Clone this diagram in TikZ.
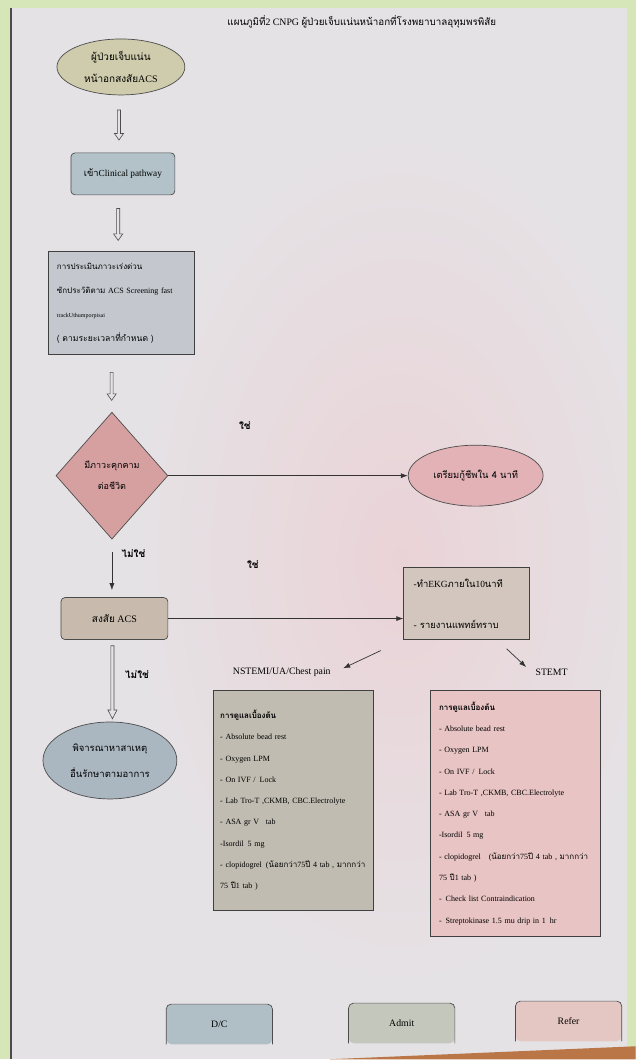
\documentclass[tikz,border=0pt]{standalone}
\usepackage{fontspec}
\setmainfont{Liberation Serif}
\newfontfamily\thaifont[Script=Thai]{Loma}
\usetikzlibrary{arrows.meta,positioning,shapes.geometric,shapes.arrows}
\definecolor{framegreen}{RGB}{214,230,184}
\definecolor{paper}{RGB}{229,226,229}
\definecolor{paperpink}{RGB}{234,211,215}
\definecolor{tablebrown}{RGB}{186,118,70}
\definecolor{startolive}{RGB}{206,204,172}
\definecolor{pathblue}{RGB}{178,194,200}
\definecolor{screengray}{RGB}{196,200,206}
\definecolor{riskpink}{RGB}{214,160,160}
\definecolor{cprpink}{RGB}{226,178,182}
\definecolor{acstan}{RGB}{200,186,172}
\definecolor{ekgbeige}{RGB}{210,198,190}
\definecolor{otherblue}{RGB}{170,182,192}
\definecolor{nstemigray}{RGB}{192,188,178}
\definecolor{stemipink}{RGB}{232,196,196}
\definecolor{dcblue}{RGB}{176,190,198}
\definecolor{admitgray}{RGB}{196,200,188}
\definecolor{referpink}{RGB}{228,198,194}
\newcommand\thaitext[1]{{\thaifont #1}}

\begin{document}
\begin{tikzpicture}[
    x=1pt, y=-1pt,
    font=\fontsize{9.8}{11}\selectfont,
    oval/.style={ellipse,draw=black!70,line width=0.7pt,align=center,inner sep=0pt},
    stepbox/.style={rectangle,rounded corners=4pt,draw=black!70,line width=0.7pt,align=center},
    listbox/.style={rectangle,draw=black!75,line width=0.7pt,align=left,inner xsep=9pt},
    decision/.style={diamond,draw=black!70,line width=0.7pt,align=center,inner sep=0pt},
    tabbox/.style={rectangle,rounded corners=5pt,minimum width=106pt,minimum height=40pt},
    hollow/.style={single arrow,draw=black!70,fill=paper,line width=0.6pt,inner sep=1.25pt,
      shape border rotate=270,single arrow head extend=3pt,single arrow head indent=0pt},
    arrow/.style={-{Latex[length=7pt,width=5pt]},line width=0.7pt,draw=black!80},
    answer/.style={font=\fontsize{10}{11}\selectfont\bfseries}
  ]
  \fill[framegreen] (0,0) rectangle (636,1060);
  \fill[paper] (12,8) rectangle (627,1060);
  \begin{scope}
    \clip (12,8) rectangle (627,1060);
    \shade[inner color=paperpink,outer color=paper] (400,560) ellipse (270 and 430);
  \end{scope}
  \draw[black!70,line width=1.5pt] (11,8) -- (11,1060);
  \fill[tablebrown] (330,1060) -- (636,1047) -- (636,1060) -- cycle;
  \useasboundingbox (0,0) rectangle (636,1060);

  \node (title) at (362,22) {\thaitext{แผนภูมิที่}2 CNPG \thaitext{ผู้ป่วยเจ็บแน่นหน้าอกที่โรงพยาบาลอุทุมพรพิสัย}};

  \node[oval,fill=startolive,minimum width=128pt,minimum height=56pt,font=\fontsize{10}{22}\selectfont]
    (intake) at (121,67) {\thaitext{ผู้ป่วยเจ็บแน่น}\\\thaitext{หน้าอกสงสัย}ACS};
  \node[stepbox,fill=pathblue,minimum width=104pt,minimum height=42pt,font=\fontsize{9.3}{11}\selectfont]
    (pathway) at (123,174) {\thaitext{เข้า}Clinical pathway};
  \node[listbox,fill=screengray,minimum width=146pt,minimum height=103pt,text width=128pt,
    font=\fontsize{8}{24}\selectfont]
    (screen) at (121,303.5) {\thaitext{การประเมินภาวะเร่งด่วน}\\
      \thaitext{ซักประวัติตาม} ACS Screening fast\\
      {\fontsize{6}{6}\selectfont trackUthumporpisai}\\
      {\fontsize{8.6}{10}\selectfont\thaitext{( ตามระยะเวลาที่กำหนด )}}};
  \node[decision,fill=riskpink,minimum width=112pt,minimum height=127pt,font=\fontsize{9}{21}\selectfont]
    (risk) at (112,476) {\thaitext{มีภาวะคุกคาม}\\\thaitext{ต่อชีวิต}};
  \node[oval,fill=cprpink,minimum width=135pt,minimum height=61pt,font=\fontsize{9.4}{11}\selectfont]
    (cpr) at (476,476) {\thaitext{เตรียมกู้ชีพใน 4 นาที}};
  \node[stepbox,fill=acstan,minimum width=107pt,minimum height=42pt,font=\fontsize{10}{11}\selectfont]
    (acs) at (114.5,619) {\thaitext{สงสัย} ACS};
  \node[listbox,fill=ekgbeige,minimum width=126pt,minimum height=72pt,text width=106pt,
    font=\fontsize{9.4}{41}\selectfont]
    (ekg) at (467,604) {-\thaitext{ทำ}EKG\thaitext{ภายใน}10\thaitext{นาที}\\- \thaitext{รายงานแพทย์ทราบ}};
  \node[oval,fill=otherblue,minimum width=134pt,minimum height=77pt,font=\fontsize{9.5}{26}\selectfont]
    (other) at (110,761) {\thaitext{พิจารณาหาสาเหตุ}\\\thaitext{อื่นรักษาตามอาการ}};

  \node (nstemilabel) at (282,673) {NSTEMI/UA/Chest pain};
  \node (stemilabel) at (552,673) {STEMT};
  \node[listbox,fill=nstemigray,anchor=north west,minimum width=160pt,minimum height=221pt,
    text width=146pt,inner xsep=7pt,font=\fontsize{8}{21.3}\selectfont]
    (nstemi) at (213,690) {{\bfseries\thaitext{การดูแลเบื้องต้น}}\\
      - Absolute bead rest\\
      - Oxygen LPM\\
      - On IVF /\enspace Lock\\
      - Lab Tro-T ,CKMB, CBC.Electrolyte\\
      - ASA gr V\enspace\ tab\\
      -Isordil\enspace 5 mg\\
      - clopidogrel\enspace (\thaitext{น้อยกว่า}75\thaitext{ปี} 4 tab , \thaitext{มากกว่า}\\
      75 \thaitext{ปี}1 tab )};
  \node[listbox,fill=stemipink,anchor=north west,minimum width=170pt,minimum height=247pt,
    text width=152pt,font=\fontsize{8}{21.3}\selectfont]
    (stemi) at (430,690) {{\bfseries\thaitext{การดูแลเบื้องต้น}}\\
      - Absolute bead rest\\
      - Oxygen LPM\\
      - On IVF /\enspace Lock\\
      - Lab Tro-T ,CKMB, CBC.Electrolyte\\
      - ASA gr V\enspace\ tab\\
      -Isordil\enspace 5 mg\\
      - clopidogrel\quad (\thaitext{น้อยกว่า}75\thaitext{ปี} 4 tab , \thaitext{มากกว่า}\\
      75 \thaitext{ปี}1 tab )\\
      -\enspace Check list Contraindication\\
      -\enspace Streptokinase 1.5 mu drip in 1\enspace hr};

  \node[tabbox,fill=dcblue] (dc) at (219.5,1025) {D/C};
  \node[tabbox,fill=admitgray] (admit) at (402,1024) {Admit};
  \node[tabbox,fill=referpink] (refer) at (569,1022) {Refer};
  \foreach \tab in {dc,admit,refer}
    \draw[black!70,line width=0.7pt,rounded corners=5pt]
      (\tab.south west) -- (\tab.north west) -- (\tab.north east) -- (\tab.south east);

  \path (intake) -- node[hollow,xshift=-3pt,minimum height=30pt,single arrow tip angle=70] {} (pathway);
  \path (pathway) -- node[hollow,xshift=-4pt,minimum height=32pt,single arrow tip angle=70] {} (screen);
  \path (screen) -- node[hollow,xshift=-5pt,minimum height=28pt,single arrow tip angle=70] {} (risk);
  \path (acs) -- node[hollow,minimum height=73pt,single arrow tip angle=55] {}
    node[answer,pos=0.42,right=9pt] {\thaitext{ไม่ใช่}} (other);

  \draw[arrow] (risk.east) -- node[answer,pos=0.32,above=42pt] {\thaitext{ใช่}} (cpr.west);
  \draw[arrow,shorten <=13pt,shorten >=7pt] (risk.south) --
    node[answer,pos=0.25,right=6pt] {\thaitext{ไม่ใช่}} (risk.south |- acs.north);
  \draw[arrow] (acs.east) -- node[answer,pos=0.36,above=46pt] {\thaitext{ใช่}} (ekg.west |- acs.east);
  \draw[arrow,shorten <=25pt,shorten >=10pt] (ekg.south west) -- (nstemilabel.east);
  \draw[arrow,shorten <=13pt,shorten >=8pt] (ekg.-50) -- (stemilabel.west);
\end{tikzpicture}
\end{document}
